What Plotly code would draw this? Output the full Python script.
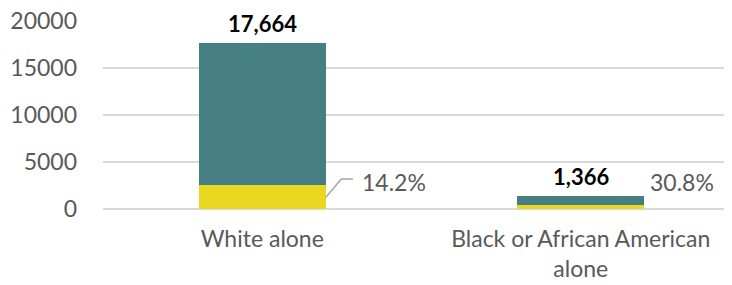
import plotly.graph_objects as go

categories = ["White alone", "Black or African American<br>alone"]
yellow_values = [2508, 421]
teal_values = [15156, 945]
total_labels = ["17,664", "1,366"]
pct_labels = ["14.2%", "30.8%"]

TEAL = "#457F84"
YELLOW = "#E9D720"
GRAY = "#595959"
FONT = "Lato, 'Open Sans', sans-serif"
FS = 23

fig = go.Figure()
xs = list(range(len(categories)))
fig.add_bar(x=xs, y=yellow_values, marker_color=YELLOW, width=0.4, marker_line_width=0)
fig.add_bar(x=xs, y=teal_values, marker_color=TEAL, width=0.4, marker_line_width=0)

totals = [a + b for a, b in zip(yellow_values, teal_values)]
for i, (t, lab) in enumerate(zip(totals, total_labels)):
    fig.add_annotation(x=i, y=t, text=f"<b>{lab}</b>", showarrow=False,
                       yanchor="bottom", yshift=4,
                       font=dict(family=FONT, size=22, color="#000000"))

pct_offsets = [0.307, 0.21]
pct_y = [2870, 2870]
for i, lab in enumerate(pct_labels):
    fig.add_annotation(x=i + pct_offsets[i], y=pct_y[i], text=lab, showarrow=False,
                       xanchor="left", yanchor="middle",
                       font=dict(family=FONT, size=FS, color=GRAY))

# leader line for first label
y0 = yellow_values[0] / 2
fig.add_shape(type="path",
              path=f"M 0.2,{y0} L 0.248,3190 L 0.285,3190",
              xref="x", yref="y", line=dict(color="#A6A6A6", width=1.5))

fig.update_layout(
    barmode="stack",
    showlegend=False,
    width=732, height=285,
    margin=dict(l=95, r=0, t=12, b=84, autoexpand=False),
    plot_bgcolor="white", paper_bgcolor="white",
    font=dict(family=FONT, size=FS, color=GRAY),
)
fig.update_xaxes(tickvals=xs, ticktext=categories, range=[-0.5, 1.5],
                 showgrid=False, showline=False, ticks="", zeroline=False,
                 automargin=False, ticklabelstandoff=14,
                 tickfont=dict(family=FONT, size=FS, color=GRAY))
fig.update_yaxes(range=[0, 20100], tickvals=[0, 5000, 10000, 15000, 20000],
                 ticktext=["0", "5000", "10000", "15000", "20000"],
                 showgrid=True, gridcolor="#D9D9D9", gridwidth=1.5,
                 zeroline=True, zerolinecolor="#D9D9D9", zerolinewidth=1.5,
                 ticklabelstandoff=25, automargin=False, ticklabeloverflow="allow",
                 tickfont=dict(family=FONT, size=FS, color=GRAY))

fig.write_html("out.html")
